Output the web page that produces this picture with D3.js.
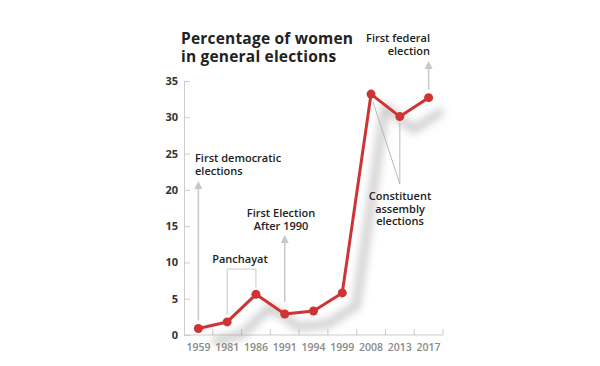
<!DOCTYPE html>
<html>
<head>
    <meta charset="utf-8">
    <title>Percentage of women in general elections</title>
    <script src="https://d3js.org/d3.v7.min.js"></script>
    <style>
        body { margin: 0; background: #fff; }
        text { font-family: "Open Sans", sans-serif; }
    </style>
</head>
<body>
    <svg id="chart" width="600" height="366"></svg>

    <script>
        const years = ['1959', '1981', '1986', '1991', '1994', '1999', '2008', '2013', '2017'];
        const womenPct = [0.9, 1.8, 5.6, 2.9, 3.3, 5.8, 33.2, 30.1, 32.7];
        const yTicks = [0, 5, 10, 15, 20, 25, 30, 35];

        const svg = d3.select("#chart");

        const x = d3.scaleBand().domain(years).range([184, 443]);
        const y = d3.scaleLinear().domain([0, 35]).range([335, 81]);
        const cx = d => x(d) + x.bandwidth() / 2;

        // blur for the drop shadow
        const defs = svg.append("defs");
        defs.append("filter").attr("id", "blur")
            .attr("x", "-20%").attr("y", "-20%").attr("width", "140%").attr("height", "140%")
            .append("feGaussianBlur").attr("stdDeviation", 4.5);

        // title
        svg.append("text").attr("x", 181).attr("y", 44)
            .attr("font-size", 15.5).attr("font-weight", 700).attr("fill", "#222")
            .attr("letter-spacing", 0.2)
            .call(t => {
                t.append("tspan").attr("x", 181).attr("dy", 0).text("Percentage of women");
                t.append("tspan").attr("x", 181).attr("dy", 18).text("in general elections");
            });

        // y axis
        const yAxis = svg.append("g").attr("transform", "translate(184,0)")
            .call(d3.axisRight(y).tickValues(yTicks).tickSize(6).tickFormat(""));
        yAxis.select(".domain").attr("stroke", "#ccc");
        yAxis.selectAll(".tick line").attr("stroke", "#ccc");
        svg.append("g").selectAll("text").data(yTicks).join("text")
            .attr("x", 178).attr("y", d => y(d) + 4)
            .attr("text-anchor", "end").attr("font-size", 11).attr("font-weight", 700)
            .attr("fill", "#333").text(d => d);

        // x axis
        svg.append("line").attr("x1", 184).attr("x2", 443)
            .attr("y1", y(0)).attr("y2", y(0)).attr("stroke", "#ccc");
        svg.append("g").selectAll("line").data(years).join("line")
            .attr("x1", d => x(d) + x.bandwidth()).attr("x2", d => x(d) + x.bandwidth())
            .attr("y1", y(0)).attr("y2", y(0) - 6).attr("stroke", "#ccc");
        svg.append("g").selectAll("text").data(years).join("text")
            .attr("x", d => cx(d)).attr("y", 351)
            .attr("text-anchor", "middle").attr("font-size", 10.5).attr("font-weight", 600)
            .attr("fill", "#8a8a8a").text(d => d);

        const data = years.map((d, i) => ({ year: d, v: womenPct[i] }));
        const line = d3.line().x(d => cx(d.year)).y(d => y(d.v));

        // shadow
        svg.append("path").datum(data)
            .attr("d", line).attr("transform", "translate(14,13)")
            .attr("fill", "none").attr("stroke", "#8c8c8c").attr("stroke-width", 7)
            .attr("stroke-linejoin", "round").attr("opacity", 0.5)
            .attr("filter", "url(#blur)");

        // annotation helpers
        const grey = "#c8c8c8";
        function arrow(xp, y1, y2) {
            svg.append("line").attr("x1", xp).attr("x2", xp).attr("y1", y1).attr("y2", y2 + 6)
                .attr("stroke", grey).attr("stroke-width", 1.5);
            svg.append("path").attr("d", `M${xp - 4},${y2 + 8}L${xp},${y2}L${xp + 4},${y2 + 8}Z`)
                .attr("fill", grey);
        }
        function label(lines, xp, yp, anchor, gap) {
            const t = svg.append("text").attr("x", xp).attr("y", yp)
                .attr("text-anchor", anchor).attr("font-size", 11).attr("font-weight", 600)
                .attr("fill", "#222");
            lines.forEach((s, i) => {
                t.append("tspan").attr("x", xp).attr("dy", i ? gap : 0).text(s);
            });
        }

        // first democratic elections
        arrow(cx('1959'), y(womenPct[0]) - 8, 181);
        label(["First democratic", "elections"], 195, 162, "start", 13);

        // panchayat bracket
        svg.append("path")
            .attr("d", `M${cx('1981')},${y(womenPct[1]) - 7}V269H${cx('1986')}V${y(womenPct[2]) - 7}`)
            .attr("fill", "none").attr("stroke", grey).attr("stroke-width", 1);
        label(["Panchayat"], 240, 263, "middle", 0);

        // first election after 1990
        arrow(cx('1991'), y(womenPct[3]) - 12, 235);
        label(["First Election", "After 1990"], 281, 217, "middle", 12.5);

        // first federal election
        arrow(cx('2017'), y(womenPct[8]) - 8, 61);
        label(["First federal", "election"], 430, 42, "end", 12.5);

        // constituent assembly
        svg.append("path")
            .attr("d", `M${cx('2008') + 2},${y(womenPct[6]) + 8}L${cx('2013')},184`)
            .attr("stroke", "#aaa").attr("stroke-width", 0.8).attr("fill", "none");
        svg.append("path")
            .attr("d", `M${cx('2013')},${y(womenPct[7]) + 6}L${cx('2013')},184`)
            .attr("stroke", "#aaa").attr("stroke-width", 0.8).attr("fill", "none");
        label(["Constituent", "assembly", "elections"], 400, 200, "middle", 12.5);

        // main line
        svg.append("path").datum(data)
            .attr("d", line).attr("fill", "none")
            .attr("stroke", "#cf3434").attr("stroke-width", 3).attr("stroke-linejoin", "round");
        svg.append("g").selectAll("circle").data(data).join("circle")
            .attr("cx", d => cx(d.year)).attr("cy", d => y(d.v)).attr("r", 4.5)
            .attr("fill", "#cf3434");
    </script>
</body>
</html>
